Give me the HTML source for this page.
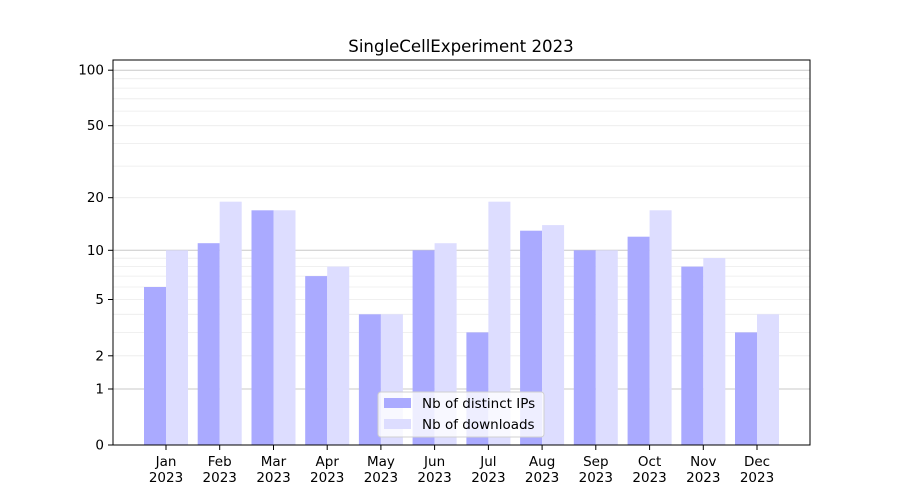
<!DOCTYPE html>
<html><head><meta charset="utf-8"><style>body{margin:0;background:#fff}svg{display:block;font-family:"DejaVu Sans","Liberation Sans",sans-serif}</style></head><body>
<svg width="900" height="500" viewBox="0 0 900 500">
<rect width="900" height="500" fill="#fff"/>
<g stroke="#ebebeb" stroke-width="0.8">
<line x1="113" x2="810" y1="355.8" y2="355.8"/><line x1="113" x2="810" y1="332.4" y2="332.4"/><line x1="113" x2="810" y1="314.3" y2="314.3"/><line x1="113" x2="810" y1="299.5" y2="299.5"/><line x1="113" x2="810" y1="287" y2="287"/><line x1="113" x2="810" y1="276.1" y2="276.1"/><line x1="113" x2="810" y1="266.6" y2="266.6"/><line x1="113" x2="810" y1="258.2" y2="258.2"/>
<line x1="113" x2="810" y1="197.7" y2="197.7"/><line x1="113" x2="810" y1="166.1" y2="166.1"/><line x1="113" x2="810" y1="143.4" y2="143.4"/><line x1="113" x2="810" y1="125.7" y2="125.7"/><line x1="113" x2="810" y1="111.1" y2="111.1"/><line x1="113" x2="810" y1="98.8" y2="98.8"/><line x1="113" x2="810" y1="88.1" y2="88.1"/><line x1="113" x2="810" y1="78.7" y2="78.7"/>
</g>
<g stroke="#c8c8c8" stroke-width="1">
<line x1="113" x2="810" y1="389" y2="389"/><line x1="113" x2="810" y1="250.3" y2="250.3"/><line x1="113" x2="810" y1="70.2" y2="70.2"/>
</g>
<g fill="#aaaaff">
<rect x="144" y="287" width="22" height="158"/>
<rect x="197.7" y="243.2" width="22" height="201.8"/>
<rect x="251.5" y="210.3" width="22" height="234.7"/>
<rect x="305.2" y="276.1" width="22" height="168.9"/>
<rect x="358.9" y="314.3" width="22" height="130.7"/>
<rect x="412.6" y="250.3" width="22" height="194.7"/>
<rect x="466.4" y="332.4" width="22" height="112.6"/>
<rect x="520.1" y="230.7" width="22" height="214.3"/>
<rect x="573.8" y="250.3" width="22" height="194.7"/>
<rect x="627.6" y="236.7" width="22" height="208.3"/>
<rect x="681.3" y="266.6" width="22" height="178.4"/>
<rect x="735" y="332.4" width="22" height="112.6"/>
</g>
<g fill="#ddddff">
<rect x="166" y="250.3" width="22" height="194.7"/>
<rect x="219.7" y="201.7" width="22" height="243.3"/>
<rect x="273.5" y="210.3" width="22" height="234.7"/>
<rect x="327.2" y="266.6" width="22" height="178.4"/>
<rect x="380.9" y="314.3" width="22" height="130.7"/>
<rect x="434.6" y="243.2" width="22" height="201.8"/>
<rect x="488.4" y="201.7" width="22" height="243.3"/>
<rect x="542.1" y="225.1" width="22" height="219.9"/>
<rect x="595.8" y="250.3" width="22" height="194.7"/>
<rect x="649.6" y="210.3" width="22" height="234.7"/>
<rect x="703.3" y="258" width="22" height="187"/>
<rect x="757" y="314.3" width="22" height="130.7"/>
</g>
<rect x="113" y="60" width="697" height="385" fill="none" stroke="#000" stroke-width="1"/>
<g stroke="#000" stroke-width="1">
<line x1="108" x2="113" y1="445" y2="445"/><line x1="108" x2="113" y1="389" y2="389"/><line x1="108" x2="113" y1="355.8" y2="355.8"/><line x1="108" x2="113" y1="299.5" y2="299.5"/><line x1="108" x2="113" y1="250.3" y2="250.3"/><line x1="108" x2="113" y1="197.7" y2="197.7"/><line x1="108" x2="113" y1="125.7" y2="125.7"/><line x1="108" x2="113" y1="70.2" y2="70.2"/>
<line x1="166" x2="166" y1="445" y2="450"/><line x1="219.7" x2="219.7" y1="445" y2="450"/><line x1="273.5" x2="273.5" y1="445" y2="450"/><line x1="327.2" x2="327.2" y1="445" y2="450"/><line x1="380.9" x2="380.9" y1="445" y2="450"/><line x1="434.6" x2="434.6" y1="445" y2="450"/><line x1="488.4" x2="488.4" y1="445" y2="450"/><line x1="542.1" x2="542.1" y1="445" y2="450"/><line x1="595.8" x2="595.8" y1="445" y2="450"/><line x1="649.6" x2="649.6" y1="445" y2="450"/><line x1="703.3" x2="703.3" y1="445" y2="450"/><line x1="757" x2="757" y1="445" y2="450"/>
</g>
<g font-size="13.5" text-anchor="end" fill="#000">
<text x="104" y="449.5">0</text><text x="104" y="393.5">1</text><text x="104" y="360.3">2</text><text x="104" y="304">5</text><text x="104" y="254.8">10</text><text x="104" y="202.2">20</text><text x="104" y="130.2">50</text><text x="104" y="74.7">100</text>
</g>
<g font-size="13.5" text-anchor="middle" fill="#000">
<text x="166" y="466">Jan</text><text x="219.7" y="466">Feb</text><text x="273.5" y="466">Mar</text><text x="327.2" y="466">Apr</text><text x="380.9" y="466">May</text><text x="434.6" y="466">Jun</text><text x="488.4" y="466">Jul</text><text x="542.1" y="466">Aug</text><text x="595.8" y="466">Sep</text><text x="649.6" y="466">Oct</text><text x="703.3" y="466">Nov</text><text x="757" y="466">Dec</text>
<text x="166" y="482">2023</text><text x="219.7" y="482">2023</text><text x="273.5" y="482">2023</text><text x="327.2" y="482">2023</text><text x="380.9" y="482">2023</text><text x="434.6" y="482">2023</text><text x="488.4" y="482">2023</text><text x="542.1" y="482">2023</text><text x="595.8" y="482">2023</text><text x="649.6" y="482">2023</text><text x="703.3" y="482">2023</text><text x="757" y="482">2023</text>
<text x="461" y="52" font-size="16.6">SingleCellExperiment 2023</text>
</g>
<rect x="378" y="392" width="166" height="45" rx="3" fill="#fff" fill-opacity="0.8" stroke="#d0d0d0"/>
<rect x="384" y="398" width="27" height="10" fill="#aaaaff"/>
<rect x="384" y="419" width="27" height="10" fill="#ddddff"/>
<g font-size="13.5" fill="#000">
<text x="422" y="408">Nb of distinct IPs</text>
<text x="422" y="429">Nb of downloads</text>
</g>
</svg>
</body></html>
